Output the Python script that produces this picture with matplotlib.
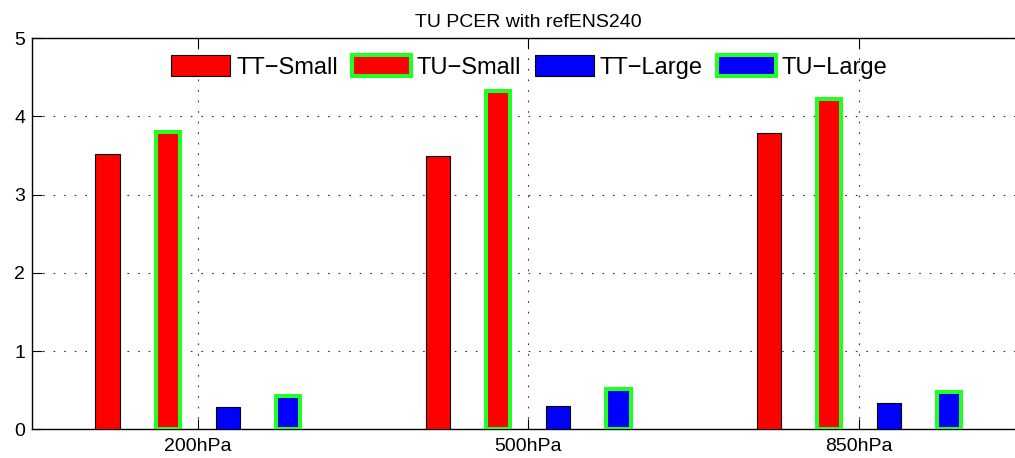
import numpy as np
import matplotlib
matplotlib.use('Agg')
from matplotlib import pyplot as plt

plt.rcParams['font.family'] = ['Liberation Sans', 'DejaVu Sans']

# pressure levels and the four series
levels = ['200hPa', '500hPa', '850hPa']
series = ['TT\u2212Small', 'TU\u2212Small', 'TT\u2212Large', 'TU\u2212Large']
tt_small = [3.52, 3.50, 3.79]
tu_small = [3.80, 4.32, 4.23]
tt_large = [0.29, 0.30, 0.33]
tu_large = [0.43, 0.52, 0.48]

values = [tt_small, tu_small, tt_large, tu_large]
faces = ['#ff0000', '#ff0000', '#0000ff', '#0000ff']
edges = ['black', '#22ff22', 'black', '#22ff22']
lws = [0.8, 2.9, 0.8, 2.9]

fig = plt.figure(figsize=(10.15, 4.58), dpi=100)
ax = fig.add_axes([0.0318, 0.0627, 0.9775, 0.8537])

x = np.arange(1, len(levels) + 1)
step = 0.727 / 4
width = 0.073
for i in range(4):
    off = (i - 1.5) * step
    ax.bar(x + off, values[i], width, color=faces[i], edgecolor=edges[i],
           linewidth=lws[i], label=series[i], zorder=3)

ax.set_xlim(0.5, 3.5)
ax.set_ylim(0, 5)
ax.set_xticks(x)
ax.set_xticklabels(levels, fontsize=14)
ax.set_yticks(range(6))
ax.set_yticklabels([str(v) for v in range(6)], fontsize=14)
ax.tick_params(direction='in', length=7, width=0.8, top=True, right=True, pad=6)
ax.tick_params(axis='y', pad=5)
for s in ax.spines.values():
    s.set_linewidth(1.0)

ax.grid(True, color='#333333', linestyle=(0, (1.5, 8)), linewidth=0.8, zorder=0)
ax.set_axisbelow(True)

ax.set_title('TU PCER with refENS240', fontsize=14, pad=8)

leg = ax.legend(loc='center', bbox_to_anchor=(0.501, 0.927), ncol=4, frameon=False,
                fontsize=17, handlelength=2.5, handleheight=1.0, handletextpad=0.25,
                columnspacing=0.58, borderpad=0)

fig.savefig('out.png', dpi=100)
